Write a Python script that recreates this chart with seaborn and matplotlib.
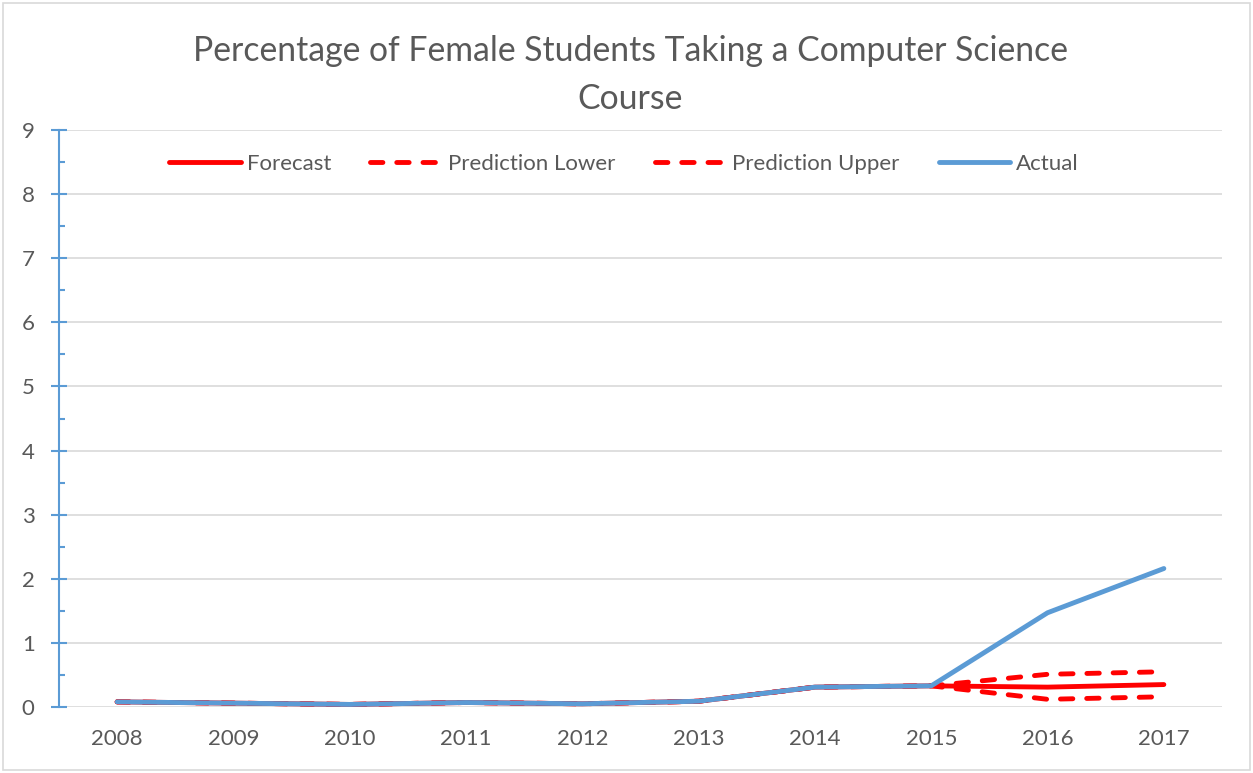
import matplotlib
matplotlib.use("Agg")
import matplotlib.pyplot as plt
from matplotlib.patches import Rectangle
from matplotlib.ticker import MultipleLocator
import seaborn as sns

# Data
years = [2008, 2009, 2010, 2011, 2012, 2013, 2014, 2015, 2016, 2017]
actual = [0.08, 0.06, 0.04, 0.07, 0.05, 0.09, 0.31, 0.33, 1.47, 2.16]
forecast = [0.08, 0.06, 0.04, 0.07, 0.05, 0.09, 0.31, 0.33, 0.31, 0.35]
pred_lower = [0.08, 0.06, 0.04, 0.07, 0.05, 0.09, 0.31, 0.33, 0.12, 0.16]
pred_upper = [0.08, 0.06, 0.04, 0.07, 0.05, 0.09, 0.31, 0.33, 0.51, 0.55]

title = "Percentage of Female Students Taking a Computer Science\nCourse"

RED = "#FF0000"
BLUE = "#5B9BD5"
TEXT = "#595959"
GRID = "#D9D9D9"

sns.set_style("white")
plt.rcParams["font.family"] = ["Lato", "DejaVu Sans"]

fig = plt.figure(figsize=(12.53, 7.73), dpi=100)
ax = fig.add_axes([59 / 1253, 66 / 773, (1222 - 59) / 1253, (707 - 130) / 773])

lw = 3.5
dash = (0, (2.55, 2.85))
sns.lineplot(x=years, y=forecast, ax=ax, color=RED, lw=lw, label="Forecast",
             solid_capstyle="round")
sns.lineplot(x=years, y=pred_lower, ax=ax, color=RED, lw=lw, linestyle=dash,
             dash_capstyle="round", label="Prediction Lower")
sns.lineplot(x=years, y=pred_upper, ax=ax, color=RED, lw=lw, linestyle=dash,
             dash_capstyle="round", label="Prediction Upper")
sns.lineplot(x=years, y=actual, ax=ax, color=BLUE, lw=lw, label="Actual",
             solid_capstyle="round")

ax.set_xlim(years[0] - 0.5, years[-1] + 0.5)
ax.set_ylim(0, 9)
ax.set_xticks(years)
ax.set_xticklabels([str(y) for y in years])
ax.yaxis.set_major_locator(MultipleLocator(1))
ax.yaxis.set_minor_locator(MultipleLocator(0.5))
ax.set_xlabel("")
ax.set_ylabel("")

ax.yaxis.grid(True, which="major", color=GRID, lw=1.2)
ax.xaxis.grid(False)
ax.set_axisbelow(True)
for s in ["top", "right", "bottom"]:
    ax.spines[s].set_visible(False)
ax.spines["left"].set_color(BLUE)
ax.spines["left"].set_linewidth(1.5)

ax.tick_params(axis="y", which="both", left=True)
ax.tick_params(axis="y", which="major", direction="inout", length=11, width=1.5,
               color=BLUE, labelsize=16, labelcolor=TEXT, pad=12)
ax.tick_params(axis="y", which="minor", direction="in", length=4, width=1.5,
               color=BLUE)
ax.tick_params(axis="x", bottom=False, length=0, labelsize=16, labelcolor=TEXT,
               pad=16)

leg = ax.legend(loc="center", bbox_to_anchor=(0.486, 0.941), ncol=4, frameon=False,
                fontsize=16, handlelength=3.2, handletextpad=0.3,
                columnspacing=1.75, labelcolor=TEXT)

fig.text(0.503, 0.903, title, ha="center", va="center", fontsize=24.3,
         color=TEXT, linespacing=1.58)

fig.patches.append(Rectangle((3 / 1253, 3 / 773), 1247 / 1253, 767 / 773,
                             transform=fig.transFigure, fill=False,
                             edgecolor=GRID, lw=1.2))

fig.savefig("out.png", dpi=100)
